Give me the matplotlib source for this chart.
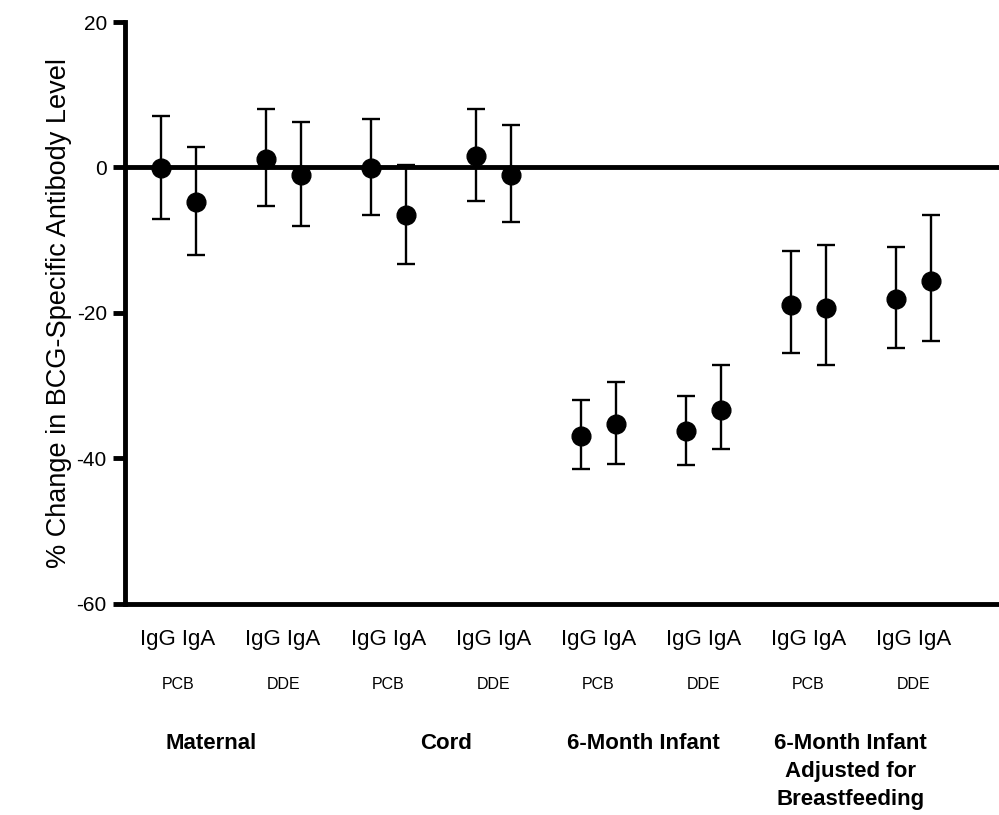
import numpy as np
import matplotlib.pyplot as plt

# data
groups = ["Maternal", "Cord", "6-Month Infant", "6-Month Infant\nAdjusted for\nBreastfeeding"]
exposures = ["PCB", "DDE"]
antibodies = ["IgG", "IgA"]

pct_change = [-0.1, -4.8, 1.1, -1.1,
              -0.1, -6.6, 1.6, -1.0,
              -36.9, -35.3, -36.2, -33.3,
              -18.9, -19.3, -18.1, -15.6]
ci_high = [7.1, 2.8, 8.0, 6.2,
           6.7, 0.4, 8.0, 5.9,
           -31.9, -29.5, -31.4, -27.1,
           -11.5, -10.6, -10.9, -6.5]
ci_low = [-7.1, -12.0, -5.3, -8.0,
          -6.6, -13.3, -4.6, -7.5,
          -41.4, -40.7, -40.9, -38.7,
          -25.5, -27.1, -24.8, -23.9]

plt.rcParams['font.family'] = ['Liberation Sans', 'DejaVu Sans']
plt.rcParams['axes.unicode_minus'] = False

# positions: pairs of IgG/IgA, gap between pairs
pos = []
for g in range(len(groups)):
    for e in range(len(exposures)):
        for a in range(len(antibodies)):
            pos.append(6 * g + 3 * e + a)
pos = np.array(pos)
y = np.array(pct_change)
yerr = [y - np.array(ci_low), np.array(ci_high) - y]

fig = plt.figure(figsize=(9.99, 8.15), dpi=100)
ax = fig.add_axes([0.125, 0.259, 0.875, 0.714])

ax.axhline(0, color='black', lw=3.5, zorder=1)
ax.errorbar(pos, y, yerr=yerr, fmt='o', color='black', ms=13.5,
            elinewidth=1.7, capsize=6.5, capthick=1.7, zorder=3)

ax.set_xlim(-1.02, 23.95)
ax.set_ylim(-60, 20)
ax.set_yticks([-60, -40, -20, 0, 20])
ax.tick_params(axis='y', length=9, width=3.5, labelsize=15, pad=4)
ax.set_xticks([])
for s in ['top', 'right']:
    ax.spines[s].set_visible(False)
for s in ['left', 'bottom']:
    ax.spines[s].set_linewidth(3.5)
ax.set_ylabel("% Change in BCG-Specific Antibody Level", fontsize=19.5, labelpad=3)

trans = ax.get_xaxis_transform()
for i in range(0, len(pos), 2):
    cx = (pos[i] + pos[i + 1]) / 2
    ax.text(cx, -0.062, " ".join(antibodies), transform=trans, ha='center', va='center',
            fontsize=16)
    ax.text(cx, -0.139, exposures[(i // 2) % 2], transform=trans, ha='center', va='center',
            fontsize=11.5)
group_shift = [-0.55, 0.15, -0.2, -0.3]
for g, name in enumerate(groups):
    cx = 6 * g + 2 + group_shift[g]
    ax.text(cx, -0.222, name, transform=trans, ha='center', va='top',
            fontsize=16, fontweight='bold', linespacing=1.45)

fig.savefig("out.png", dpi=100)
